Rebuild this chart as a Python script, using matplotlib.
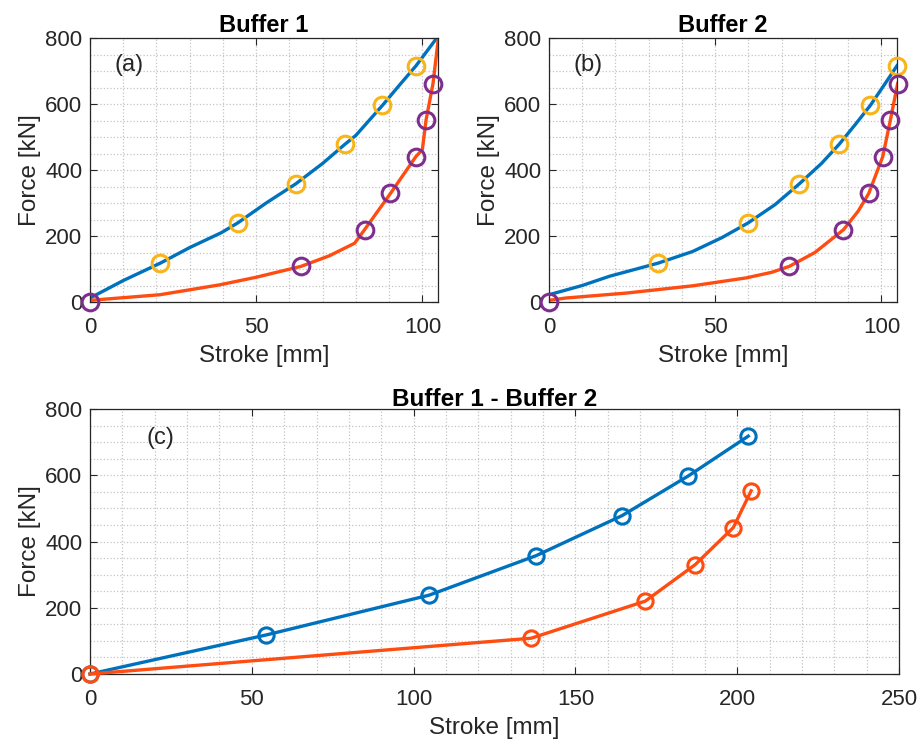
import numpy as np
import matplotlib.pyplot as plt
from matplotlib.ticker import MultipleLocator

plt.rcParams['font.family'] = ['Liberation Sans', 'DejaVu Sans']

BLUE = '#0072BD'
ORANGE = '#FF4D12'
YELLOW = '#F8B418'
PURPLE = '#7E2F8E'

# Buffer 1 - loading curve and measured points
b1_load_x = [0, 10, 21.2, 30, 39.5, 44.5, 53, 61.9, 70, 76.7, 80, 88.0, 93, 98.1, 104.7]
b1_load_y = [12, 65, 118, 165, 210, 240, 300, 358, 420, 478, 505, 596, 656, 716, 805]
b1_load_pts_x = [21.2, 44.5, 61.9, 76.7, 88.0, 98.1]
b1_load_pts_y = [118, 239, 358, 478, 596, 716]

# Buffer 1 - unloading curve and measured points
b1_unload_x = [0, 21, 39, 50, 63.5, 72, 79.6, 82.6, 90.4, 98.0, 100.0, 101.1, 103.2, 104.7]
b1_unload_y = [5, 22, 52, 75, 108, 140, 178, 219, 329, 440, 462, 551, 662, 790]
b1_unload_pts_x = [0, 63.5, 82.6, 90.4, 98.0, 101.1, 103.2]
b1_unload_pts_y = [0, 108, 219, 329, 440, 551, 662]

# Buffer 2 - loading curve and measured points
b2_load_x = [0, 10, 18.2, 32.9, 43.2, 52, 59.8, 68, 75.3, 82, 87.3, 92, 96.7, 101, 104.7]
b2_load_y = [22, 50, 78, 118, 153, 195, 239, 295, 358, 420, 478, 536, 596, 660, 716]
b2_load_pts_x = [32.9, 59.8, 75.3, 87.3, 96.7, 104.7]
b2_load_pts_y = [118, 239, 358, 478, 596, 716]

# Buffer 2 - unloading curve and measured points
b2_unload_x = [0, 5, 23.2, 43.2, 59.3, 67, 72.3, 80, 88.6, 93, 96.2, 100.4, 102.7, 104.9]
b2_unload_y = [5, 12, 27, 49, 73, 90, 108, 150, 219, 275, 329, 440, 551, 662]
b2_unload_pts_x = [0, 72.3, 88.6, 96.2, 100.4, 102.7, 104.9]
b2_unload_pts_y = [0, 108, 219, 329, 440, 551, 662]

# both buffers in series
bs_load_x = [0, 54.5, 104.8, 137.8, 164.4, 184.9, 203.4]
bs_load_y = [0, 118, 238, 357, 478, 598, 718]
bs_unload_x = [0, 136.3, 171.6, 187.0, 198.8, 204.3]
bs_unload_y = [0, 108, 220, 330, 442, 553]


def style_axes(ax, xmax, xmajor):
    ax.set_xlim(0, xmax)
    ax.set_ylim(0, 800)
    ax.xaxis.set_major_locator(MultipleLocator(xmajor))
    ax.xaxis.set_minor_locator(MultipleLocator(10))
    ax.yaxis.set_major_locator(MultipleLocator(200))
    ax.yaxis.set_minor_locator(MultipleLocator(50))
    ax.grid(which='both', color='#c4c4c4', linestyle=':', linewidth=0.9)
    ax.set_axisbelow(True)
    ax.tick_params(which='major', direction='in', length=5, top=True, right=True,
                   labelsize=16, colors='#262626')
    ax.tick_params(axis='x', which='major', pad=10.5)
    ax.tick_params(axis='y', which='major', pad=5.5)
    ax.tick_params(which='minor', length=0)
    for s in ax.spines.values():
        s.set_color('#262626')
        s.set_linewidth(0.9)
    ax.set_xlabel('Stroke [mm]', fontsize=17.5, color='#262626', labelpad=5)
    ax.set_ylabel('Force [kN]', fontsize=17.5, color='#262626', labelpad=3)


fig = plt.figure(figsize=(9.23, 7.44), dpi=100)
ax1 = fig.add_axes([90 / 923, 1 - 302 / 744, 348 / 923, 264 / 744])
ax2 = fig.add_axes([549 / 923, 1 - 302 / 744, 348 / 923, 264 / 744])
ax3 = fig.add_axes([90 / 923, 1 - 674 / 744, 809 / 923, 265 / 744])

mk = dict(marker='o', linestyle='none', markersize=12, markerfacecolor='none',
          markeredgewidth=2.2, clip_on=False, zorder=4)

ax1.plot(b1_load_x, b1_load_y, color=BLUE, lw=2.4)
ax1.plot(b1_unload_x, b1_unload_y, color=ORANGE, lw=2.4)
ax1.plot(b1_load_pts_x, b1_load_pts_y, markeredgecolor=YELLOW, **mk)
ax1.plot(b1_unload_pts_x, b1_unload_pts_y, markeredgecolor=PURPLE, **mk)
style_axes(ax1, 104.7, 50)
ax1.set_title('Buffer 1', fontsize=17, fontweight='bold', pad=4)
ax1.text(7.5, 718, '(a)', fontsize=17, color='#262626', va='center')

ax2.plot(b2_load_x, b2_load_y, color=BLUE, lw=2.4)
ax2.plot(b2_unload_x, b2_unload_y, color=ORANGE, lw=2.4)
ax2.plot(b2_load_pts_x, b2_load_pts_y, markeredgecolor=YELLOW, **mk)
ax2.plot(b2_unload_pts_x, b2_unload_pts_y, markeredgecolor=PURPLE, **mk)
style_axes(ax2, 104.7, 50)
ax2.set_title('Buffer 2', fontsize=17, fontweight='bold', pad=4)
ax2.text(7.5, 718, '(b)', fontsize=17, color='#262626', va='center')

ax3.plot(bs_load_x, bs_load_y, color=BLUE, lw=2.4, marker='o', markersize=11,
         markerfacecolor='none', markeredgewidth=2.2, clip_on=False, zorder=4)
ax3.plot(bs_unload_x, bs_unload_y, color=ORANGE, lw=2.4, marker='o', markersize=11,
         markerfacecolor='none', markeredgewidth=2.2, clip_on=False, zorder=4)
style_axes(ax3, 250, 50)
ax3.set_title('Buffer 1 - Buffer 2', fontsize=17.5, fontweight='bold', pad=2)
ax3.text(17.6, 712, '(c)', fontsize=17, color='#262626', va='center')

fig.savefig('out.png', dpi=100)
